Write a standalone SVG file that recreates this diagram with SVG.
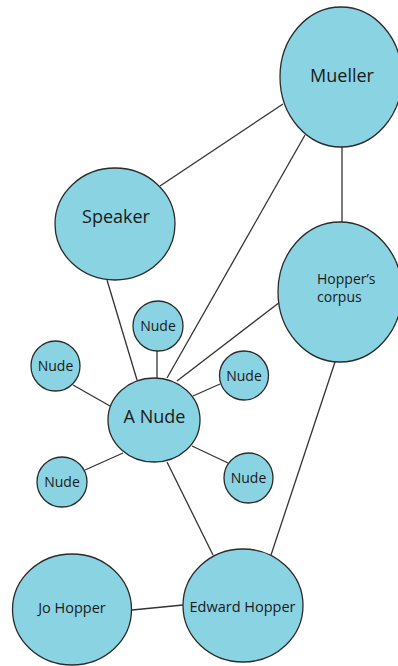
<svg xmlns="http://www.w3.org/2000/svg" width="398" height="666" viewBox="0 0 398 666">
<style>
.edge{stroke:#333;stroke-width:1.3;fill:none}
.node ellipse{fill:#8AD3E2;stroke:#2b2b2b;stroke-width:1.3}
text{font-family:"Open Sans","Noto Sans",sans-serif;fill:#1a1a1a;text-anchor:middle}
.big{font-size:18px}
.mid{font-size:14.5px}
.sm{font-size:14px}
</style>
<rect width="398" height="666" fill="#fff"/>
<g id="connectors">
<line class="edge" x1="160" y1="186" x2="283" y2="104"/>
<line class="edge" x1="305" y1="135" x2="167" y2="378"/>
<line class="edge" x1="342" y1="146" x2="342" y2="222"/>
<line class="edge" x1="107" y1="280" x2="137" y2="380"/>
<line class="edge" x1="157" y1="351" x2="157" y2="378"/>
<line class="edge" x1="177" y1="381" x2="280" y2="302"/>
<line class="edge" x1="73" y1="385" x2="110" y2="406"/>
<line class="edge" x1="193" y1="396" x2="220" y2="384"/>
<line class="edge" x1="85" y1="470" x2="123" y2="453"/>
<line class="edge" x1="192" y1="446" x2="228" y2="463"/>
<line class="edge" x1="167" y1="462" x2="213" y2="555"/>
<line class="edge" x1="335" y1="362" x2="271" y2="555"/>
<line class="edge" x1="132" y1="610" x2="183" y2="605"/>
</g>
<g id="mueller" class="node"><ellipse cx="341" cy="77" rx="61" ry="70"/><text class="big" x="342" y="82">Mueller</text></g>
<g id="speaker" class="node"><ellipse cx="115" cy="224" rx="60" ry="56"/><text class="big" x="116" y="223">Speaker</text></g>
<g id="hoppers-corpus" class="node"><ellipse cx="340" cy="292" rx="62" ry="70"/><text class="sm" x="317" y="284" style="text-anchor:start">Hopper’s</text><text class="sm" x="317" y="302" style="text-anchor:start">corpus</text></g>
<g id="nude-top" class="node"><ellipse cx="158" cy="326" rx="25" ry="25"/><text class="sm" x="158" y="331">Nude</text></g>
<g id="nude-left" class="node"><ellipse cx="55.5" cy="366" rx="24.5" ry="25"/><text class="sm" x="55.5" y="371">Nude</text></g>
<g id="nude-right" class="node"><ellipse cx="244" cy="375.5" rx="24.5" ry="24.5"/><text class="sm" x="244" y="381">Nude</text></g>
<g id="a-nude" class="node"><ellipse cx="154" cy="420" rx="46" ry="42"/><text class="big" x="154.5" y="423">A Nude</text></g>
<g id="nude-bottom-left" class="node"><ellipse cx="62" cy="482" rx="25" ry="25"/><text class="sm" x="62" y="487">Nude</text></g>
<g id="nude-bottom-right" class="node"><ellipse cx="248.5" cy="478" rx="24.5" ry="25"/><text class="sm" x="248.5" y="483">Nude</text></g>
<g id="jo-hopper" class="node"><ellipse cx="72" cy="609.5" rx="59.5" ry="55.5"/><text class="mid" x="72" y="613">Jo Hopper</text></g>
<g id="edward-hopper" class="node"><ellipse cx="243" cy="605.5" rx="60" ry="56.5"/><text class="mid" x="242.5" y="612">Edward Hopper</text></g>
</svg>
